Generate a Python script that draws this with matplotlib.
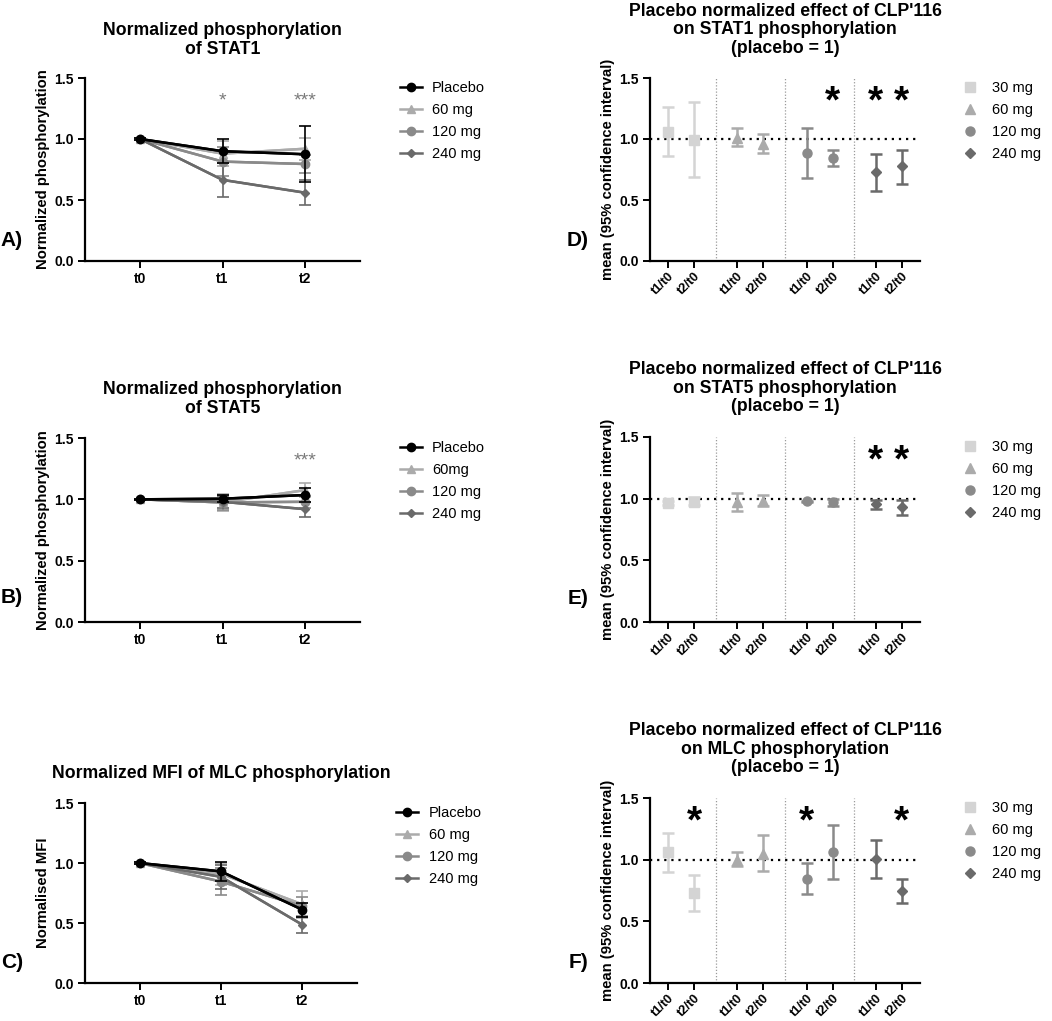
import matplotlib
matplotlib.use("Agg")
import matplotlib.pyplot as plt
from matplotlib.lines import Line2D
import numpy as np

plt.rcParams['font.family'] = ['Liberation Sans', 'DejaVu Sans']

# ---------------- data ----------------
time_labels = ['t0', 't1', 't2']
groups_left = ['Placebo', '60 mg', '120 mg', '240 mg']
groups_left_b = ['Placebo', '60mg', '120 mg', '240 mg']

# A) STAT1
stat1_placebo = [1.00, 0.90, 0.875]
stat1_60 = [1.00, 0.88, 0.92]
stat1_120 = [1.00, 0.815, 0.795]
stat1_240 = [1.00, 0.665, 0.56]
stat1_placebo_err = [0.005, 0.10, 0.23]
stat1_60_err = [0.005, 0.10, 0.09]
stat1_120_err = [0.005, 0.12, 0.075]
stat1_240_err = [0.005, 0.14, 0.10]
stat1_stars = ['', '*', '***']

# B) STAT5
stat5_placebo = [1.00, 1.005, 1.035]
stat5_60 = [1.00, 0.975, 1.075]
stat5_120 = [1.00, 0.975, 0.98]
stat5_240 = [1.00, 0.98, 0.92]
stat5_placebo_err = [0.005, 0.03, 0.055]
stat5_60_err = [0.005, 0.07, 0.06]
stat5_120_err = [0.005, 0.06, 0.05]
stat5_240_err = [0.005, 0.05, 0.06]
stat5_stars = ['', '', '***']

# C) MLC
mlc_placebo = [1.00, 0.93, 0.61]
mlc_60 = [1.00, 0.91, 0.655]
mlc_120 = [1.00, 0.845, 0.64]
mlc_240 = [1.00, 0.885, 0.485]
mlc_placebo_err = [0.005, 0.08, 0.06]
mlc_60_err = [0.005, 0.09, 0.11]
mlc_120_err = [0.005, 0.11, 0.08]
mlc_240_err = [0.005, 0.10, 0.065]
mlc_stars = ['', '', '']

# D-F) placebo normalized effects
doses = ['30 mg', '60 mg', '120 mg', '240 mg']
ratio_labels = ['t1/t0', 't2/t0']

d_mean = {'30 mg': [1.06, 0.995], '60 mg': [1.01, 0.96], '120 mg': [0.885, 0.845], '240 mg': [0.73, 0.775]}
d_lo = {'30 mg': [0.86, 0.685], '60 mg': [0.946, 0.885], '120 mg': [0.68, 0.775], '240 mg': [0.575, 0.635]}
d_hi = {'30 mg': [1.26, 1.305], '60 mg': [1.09, 1.045], '120 mg': [1.09, 0.91], '240 mg': [0.88, 0.91]}
d_stars = [('120 mg', 1), ('240 mg', 0), ('240 mg', 1)]

e_mean = {'30 mg': [0.965, 0.975], '60 mg': [0.97, 0.98], '120 mg': [0.98, 0.97], '240 mg': [0.955, 0.935]}
e_lo = {'30 mg': [0.95, 0.95], '60 mg': [0.90, 0.94], '120 mg': [0.975, 0.94], '240 mg': [0.915, 0.87]}
e_hi = {'30 mg': [0.985, 1.015], '60 mg': [1.045, 1.03], '120 mg': [0.985, 1.0], '240 mg': [0.99, 0.99]}
e_stars = [('240 mg', 0), ('240 mg', 1)]

f_mean = {'30 mg': [1.06, 0.73], '60 mg': [1.0, 1.045], '120 mg': [0.845, 1.065], '240 mg': [1.005, 0.75]}
f_lo = {'30 mg': [0.90, 0.585], '60 mg': [0.945, 0.91], '120 mg': [0.725, 0.845], '240 mg': [0.85, 0.65]}
f_hi = {'30 mg': [1.22, 0.875], '60 mg': [1.065, 1.20], '120 mg': [0.97, 1.285], '240 mg': [1.16, 0.84]}
f_stars = [('30 mg', 1), ('120 mg', 0), ('240 mg', 1)]

# ---------------- styles ----------------
left_colors = ['#000000', '#ababab', '#8a8a8a', '#6a6a6a']
left_markers = ['o', '^', 'o', 'D']
left_msize = [6, 6, 6, 4.5]
right_colors = ['#d4d4d4', '#ababab', '#8a8a8a', '#6a6a6a']
right_markers = ['s', '^', 'o', 'D']
right_msize = [7, 6.5, 6.5, 5]

TITLE_FS = 12.7
TICK_FS = 10
ROT_TICK_FS = 9.2
YLABEL_FS = 10.7
LEGEND_FS = 10.5

W, H = 1052, 1021
fig = plt.figure(figsize=(W / 100, H / 100), dpi=100)


def px_axes(left, top, right, bottom):
    return fig.add_axes([left / W, 1 - bottom / H, (right - left) / W, (bottom - top) / H])


def style_axes(ax):
    for s in ['top', 'right']:
        ax.spines[s].set_visible(False)
    for s in ['left', 'bottom']:
        ax.spines[s].set_linewidth(1.6)
    ax.tick_params(width=1.4, length=5, labelsize=TICK_FS, pad=3)
    ax.set_ylim(0, 1.5)
    ax.set_yticks([0, 0.5, 1.0, 1.5])
    ax.set_yticklabels(['0.0', '0.5', '1.0', '1.5'], fontweight='bold')


def time_panel(ax, series, errs, labels, stars, title, ylabel, title_y):
    x = np.arange(len(time_labels))
    order = [1, 2, 3, 0]
    handles = [None] * 4
    for i in order:
        c = left_colors[i]
        ax.errorbar(x, series[i], yerr=errs[i], color=c, lw=1.8, capsize=4,
                    capthick=1.2, elinewidth=1.2, zorder=3 + (i == 0))
        ax.plot(x, series[i], color=c, lw=1.8, marker=left_markers[i],
                ms=left_msize[i], zorder=4 + (i == 0))
        handles[i] = Line2D([], [], color=c, lw=1.8, marker=left_markers[i], ms=left_msize[i])
    ax.set_xlim(-0.67, 2.67)
    ax.set_xticks(x)
    ax.set_xticklabels(time_labels, fontweight='bold')
    style_axes(ax)
    for xi, s in zip(x, stars):
        if s:
            ax.text(xi, 1.31, s, ha='center', va='center', color='#7a7a7a', fontsize=14)
    ax.set_ylabel(ylabel, fontweight='bold', fontsize=YLABEL_FS, labelpad=3)
    ax.legend(handles, labels, loc='upper left', bbox_to_anchor=(1.145, 0.985), frameon=False,
              fontsize=LEGEND_FS, borderpad=0, borderaxespad=0, handlelength=1.5,
              handletextpad=0.7, labelspacing=0.55)
    fig.text((ax.get_position().x0 + ax.get_position().x1) / 2, 1 - title_y / H, title,
             ha='center', va='center', fontweight='bold', fontsize=TITLE_FS, linespacing=1.1)


def ratio_panel(ax, mean, lo, hi, stars, title, title_y):
    handles = []
    pos_all = []
    for g, dose in enumerate(doses):
        pos = np.array([g * 8 / 3, g * 8 / 3 + 1])
        pos_all.extend(pos)
        m = np.array(mean[dose])
        yerr = np.vstack([m - np.array(lo[dose]), np.array(hi[dose]) - m])
        ax.errorbar(pos, m, yerr=yerr, fmt=right_markers[g], color=right_colors[g],
                    ms=right_msize[g], capsize=4, capthick=1.8, elinewidth=1.8, zorder=3)
        handles.append(Line2D([], [], ls='none', marker=right_markers[g], color=right_colors[g],
                              ms=right_msize[g]))
        if g > 0:
            ax.axvline(g * 8 / 3 - 5 / 6, color='#9a9a9a', ls=(0, (1, 1.5)), lw=0.9, zorder=1)
    ax.axhline(1.0, color='black', ls=(0, (1, 2.2)), lw=1.6, zorder=2)
    ax.set_xlim(-0.7, 9.7)
    ax.set_xticks(pos_all)
    style_axes(ax)
    ax.set_xticklabels(ratio_labels * 4, rotation=45, ha='right', rotation_mode='anchor',
                       fontweight='bold', fontsize=ROT_TICK_FS)
    ax.tick_params(axis='x', pad=1.5)
    for dose, j in stars:
        g = doses.index(dose)
        ax.text(g * 8 / 3 + j, 1.30, '*', ha='center', va='center', fontsize=28,
                fontweight='bold', color='black')
    ax.set_ylabel('mean (95% confidence interval)', fontweight='bold', fontsize=YLABEL_FS,
                  labelpad=3)
    ax.legend(handles, doses, loc='upper left', bbox_to_anchor=(1.16, 0.985), frameon=False,
              fontsize=LEGEND_FS, borderpad=0, borderaxespad=0, handlelength=1.0,
              handletextpad=1.0, labelspacing=0.55)
    fig.text((ax.get_position().x0 + ax.get_position().x1) / 2, 1 - title_y / H, title,
             ha='center', va='center', fontweight='bold', fontsize=TITLE_FS, linespacing=1.1)


axA = px_axes(85, 78, 360, 261)
time_panel(axA, [stat1_placebo, stat1_60, stat1_120, stat1_240],
           [stat1_placebo_err, stat1_60_err, stat1_120_err, stat1_240_err],
           groups_left, stat1_stars, 'Normalized phosphorylation\nof STAT1',
           'Normalized phosphorylation', 40)

axB = px_axes(85, 438, 360, 622)
time_panel(axB, [stat5_placebo, stat5_60, stat5_120, stat5_240],
           [stat5_placebo_err, stat5_60_err, stat5_120_err, stat5_240_err],
           groups_left_b, stat5_stars, 'Normalized phosphorylation\nof STAT5',
           'Normalized phosphorylation', 399)

axC = px_axes(85, 803, 357, 983)
time_panel(axC, [mlc_placebo, mlc_60, mlc_120, mlc_240],
           [mlc_placebo_err, mlc_60_err, mlc_120_err, mlc_240_err],
           groups_left, mlc_stars, 'Normalized MFI of MLC phosphorylation',
           'Normalised MFI', 773)

axD = px_axes(650, 78, 920, 261)
ratio_panel(axD, d_mean, d_lo, d_hi, d_stars,
            "Placebo normalized effect of CLP'116\non STAT1 phosphorylation\n(placebo = 1)", 30)

axE = px_axes(650, 437, 920, 622)
ratio_panel(axE, e_mean, e_lo, e_hi, e_stars,
            "Placebo normalized effect of CLP'116\non STAT5 phosphorylation\n(placebo = 1)", 388)

axF = px_axes(650, 798, 920, 983)
ratio_panel(axF, f_mean, f_lo, f_hi, f_stars,
            "Placebo normalized effect of CLP'116\non MLC phosphorylation\n(placebo = 1)", 749)

panel_labels = [('A)', 12, 240), ('B)', 12, 597), ('C)', 12, 962),
                ('D)', 578, 240), ('E)', 578, 598), ('F)', 578, 962)]
for lab, x, y in panel_labels:
    fig.text(x / W, 1 - y / H, lab, ha='center', va='center', fontweight='bold', fontsize=15)

fig.savefig('out.png', dpi=100)
